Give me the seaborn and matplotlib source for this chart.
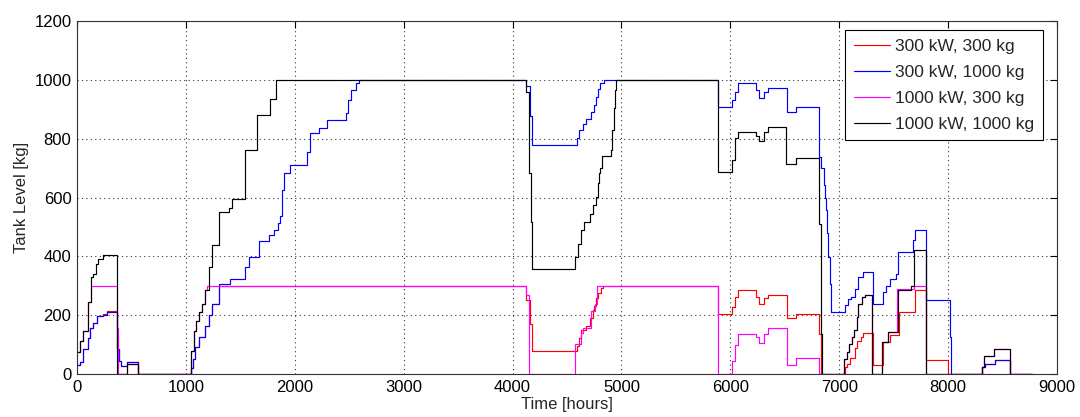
import numpy as np
import pandas as pd
import matplotlib
matplotlib.use("Agg")
import matplotlib.pyplot as plt
import seaborn as sns

series_names = ["300 kW, 300 kg", "300 kW, 1000 kg", "1000 kW, 300 kg", "1000 kW, 1000 kg"]
series_colors = ["#ff0000", "#0000ff", "#ff00ff", "#000000"]

# 300 kW, 300 kg (red)
red_t = [0, 25, 58, 104, 120, 150, 181, 242, 275, 365, 385, 400, 457, 564,
         1050, 1064, 1086, 1116, 1178, 1210, 1239, 1300,
         4125, 4160, 4183, 4591, 4612, 4627, 4673, 4713, 4735, 4750, 4765, 4787, 4810, 4827,
         5885, 6013, 6040, 6069, 6235, 6259, 6310, 6345, 6518, 6600, 6812, 6835,
         7050, 7070, 7100, 7142, 7160, 7200, 7219, 7306, 7403, 7464, 7545, 7694, 7801, 8000,
         8307, 8338, 8430, 8568, 8767]
red_v = [30, 40, 86, 121, 155, 173, 196, 205, 215, 85, 45, 28, 42, 0,
         20, 51, 91, 125, 164, 200, 238, 300,
         250, 170, 77, 96, 124, 149, 164, 192, 217, 232, 260, 277, 294, 300,
         205, 227, 261, 286, 261, 239, 259, 269, 190, 205, 136, 0,
         23, 35, 55, 90, 113, 125, 138, 32, 108, 131, 210, 284, 46, 0,
         23, 34, 48, 0, 0]

# 300 kW, 1000 kg (blue)
blue_t = [0, 25, 58, 104, 120, 150, 181, 242, 275, 365, 385, 400, 457, 564,
          1045, 1050, 1064, 1086, 1116, 1178, 1210, 1239, 1300, 1408, 1546, 1576, 1668, 1760,
          1806, 1843, 1861, 1883, 1898, 1960, 2113, 2137, 2220, 2297, 2466, 2487, 2512, 2558, 2588,
          4125, 4160, 4183, 4591, 4612, 4643, 4673, 4719, 4744, 4765, 4781, 4802, 4836,
          5885, 6013, 6040, 6069, 6235, 6259, 6310, 6345, 6518, 6600,
          6812, 6835, 6860, 6872, 6881, 6890, 6897, 6912, 6927,
          7050, 7081, 7111, 7142, 7173, 7219, 7306, 7400, 7430, 7464, 7525, 7541, 7679, 7694,
          7795, 8016, 8025, 8307, 8338, 8430, 8568, 8767]
blue_v = [30, 40, 86, 121, 155, 173, 196, 202, 210, 85, 45, 28, 42, 0,
          0, 20, 51, 91, 125, 164, 200, 238, 306, 323, 364, 398, 451, 471,
          489, 512, 537, 624, 682, 709, 756, 818, 835, 864, 887, 932, 966, 989, 1000,
          978, 876, 778, 801, 830, 850, 866, 892, 915, 943, 968, 989, 1000,
          909, 932, 960, 989, 966, 937, 960, 972, 892, 907,
          739, 700, 642, 600, 557, 480, 398, 307, 210,
          233, 256, 261, 290, 330, 347, 239, 278, 300, 324, 341, 415, 455, 489,
          250, 125, 0, 23, 34, 48, 0, 0]

# 1000 kW, 300 kg (magenta)
mag_t = [0, 28, 58, 104, 126, 365, 372, 457, 564,
         1050, 1070, 1095, 1116, 1147, 1178, 1195,
         4125, 4150, 4572, 4627, 4650, 4719, 4755, 4775,
         5885, 6013, 6040, 6069, 6235, 6259, 6310, 6345, 6518, 6600, 6812,
         7044, 7070, 7090, 7120, 7140, 7160, 7175, 7210, 7240, 7302, 7395, 7450, 7535, 7690, 7795,
         8307, 8330, 8420, 8568, 8767]
mag_v = [74, 113, 147, 244, 300, 155, 0, 34, 0,
         78, 147, 181, 210, 238, 284, 300,
         270, 0, 102, 141, 156, 215, 237, 300,
         0, 43, 100, 136, 125, 105, 136, 157, 32, 55, 0,
         51, 74, 102, 125, 149, 193, 239, 261, 267, 0, 108, 142, 290, 300, 0,
         23, 62, 85, 0, 0]

# 1000 kW, 1000 kg (black)
blk_t = [0, 28, 58, 104, 126, 150, 174, 196, 242, 365, 457, 564,
         1050, 1070, 1095, 1116, 1147, 1178, 1208, 1239, 1300, 1392, 1423, 1545, 1650, 1768, 1830,
         4125, 4150, 4170, 4183, 4575, 4600, 4627, 4660, 4710, 4735, 4765, 4781, 4790, 4805, 4821,
         4900, 4915, 4930, 4944, 4953,
         5885, 6013, 6040, 6069, 6235, 6259, 6305, 6345, 6515, 6600, 6812, 6830, 6843,
         7044, 7070, 7090, 7120, 7140, 7160, 7175, 7210, 7240, 7302, 7395, 7450, 7541, 7660, 7690, 7801,
         8307, 8330, 8420, 8568, 8767]
blk_v = [74, 113, 147, 244, 329, 341, 375, 392, 403, 0, 34, 0,
         78, 147, 181, 210, 238, 284, 364, 437, 551, 563, 594, 762, 882, 934, 1000,
         960, 682, 517, 358, 398, 443, 491, 517, 545, 574, 602, 648, 682, 699, 741,
         762, 830, 903, 966, 1000,
         687, 727, 801, 824, 809, 793, 824, 839, 713, 736, 511, 136, 0,
         51, 74, 102, 125, 149, 193, 239, 261, 267, 0, 108, 142, 284, 298, 422, 0,
         23, 62, 85, 0, 0]

x_ticks = [0, 1000, 2000, 3000, 4000, 5000, 6000, 7000, 8000, 9000]
y_ticks = [0, 200, 400, 600, 800, 1000, 1200]

frames = []
for name, t, v in zip(series_names, [red_t, blue_t, mag_t, blk_t], [red_v, blue_v, mag_v, blk_v]):
    frames.append(pd.DataFrame({"Time": t, "Level": v, "Case": name}))
df = pd.concat(frames, ignore_index=True)

sns.set_style("white")
plt.rcParams["font.family"] = ["Liberation Sans", "DejaVu Sans"]

fig = plt.figure(figsize=(10.8, 4.17), dpi=100)
ax = fig.add_axes([0.0713, 0.1031, 0.9074, 0.8465])

sns.lineplot(data=df, x="Time", y="Level", hue="Case", hue_order=series_names,
             palette=series_colors, estimator=None, sort=False, drawstyle="steps-post",
             linewidth=0.85, ax=ax)

ax.set_xlim(0, 9000)
ax.set_ylim(0, 1200)
ax.set_xticks(x_ticks)
ax.set_yticks(y_ticks)
ax.tick_params(direction="in", top=True, right=True, length=5, width=0.8,
               labelsize=12, colors="black", pad=4)
ax.grid(True, linestyle=(0, (1, 3)), color="#000000", linewidth=0.8, alpha=0.8)
for s in ax.spines.values():
    s.set_color("#333333")
    s.set_linewidth(0.8)
ax.set_xlabel("Time [hours]", fontsize=12, labelpad=2)
ax.set_ylabel("Tank Level [kg]", fontsize=12, labelpad=4)

leg = ax.legend(loc="upper right", bbox_to_anchor=(0.9857, 0.9745), borderaxespad=0,
                fontsize=12.5, fancybox=False, framealpha=1, edgecolor="black",
                handlelength=2.1, handletextpad=0.3, labelspacing=0.62, borderpad=0.5)
leg.get_frame().set_linewidth(0.8)

fig.savefig("out.png", dpi=100)
